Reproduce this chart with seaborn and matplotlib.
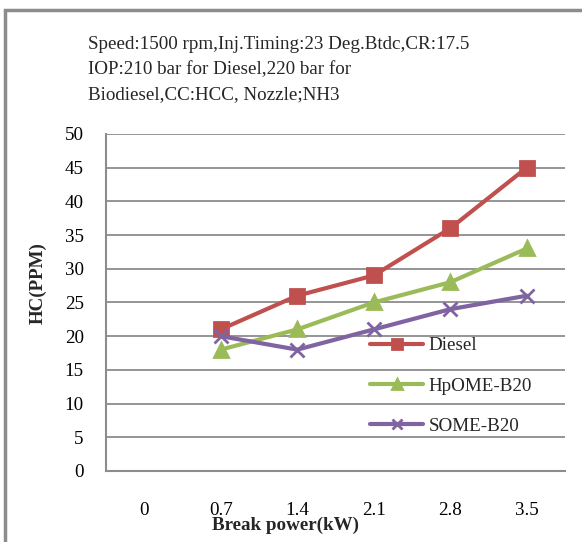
import numpy as np, pandas as pd
import matplotlib; matplotlib.use("Agg"); import matplotlib.pyplot as plt
from matplotlib.patches import Rectangle
from matplotlib.ticker import FixedLocator
import seaborn as sns

# data
power = ["0", "0.7", "1.4", "2.1", "2.8", "3.5"]
data_power = ["0.7", "1.4", "2.1", "2.8", "3.5"]
diesel = [21, 26, 29, 36, 45]
hpome_b20 = [18, 21, 25, 28, 33]
some_b20 = [20, 18, 21, 24, 26]
fuels = ["Diesel", "HpOME-B20", "SOME-B20"]
colors = ["#C0504D", "#9BBB59", "#8064A2"]
markers = ["s", "^", "x"]

df = pd.DataFrame({
    "power": data_power * 3,
    "hc": diesel + hpome_b20 + some_b20,
    "fuel": np.repeat(fuels, len(data_power)),
})

sns.set_style("white")
plt.rcParams["font.family"] = ["Liberation Serif", "DejaVu Serif"]
GRAY = "#8c8c8c"
FS = 13.7

fig = plt.figure(figsize=(5.82, 5.42), dpi=100)
ax = fig.add_axes([0.182, 0.131, 0.789, 0.622])

sns.pointplot(data=df, x="power", y="hc", hue="fuel", order=power,
              hue_order=fuels, palette=colors, markers=markers,
              linestyles="-", errorbar=None, ax=ax,
              linewidth=3, markersize=10, markeredgewidth=2)

ax.set_xlim(-0.5, 5.5)
ax.set_ylim(0, 50)
ax.set_yticks(range(0, 51, 5))
ax.yaxis.grid(True, color=GRAY, linewidth=1.3)
ax.xaxis.grid(False)
ax.set_axisbelow(True)
for s in ["top", "right"]:
    ax.spines[s].set_visible(False)
for s in ["left", "bottom"]:
    ax.spines[s].set_color(GRAY)
    ax.spines[s].set_linewidth(1.5)

ax.xaxis.set_minor_locator(FixedLocator(np.arange(-0.5, 6, 1)))
ax.tick_params(axis="x", which="major", length=0, pad=22, labelsize=FS, colors="black")
ax.tick_params(axis="x", which="minor", length=5, width=1.5, color=GRAY, direction="out")
ax.tick_params(axis="y", length=5, width=1.5, color=GRAY, pad=11, labelsize=FS, labelcolor="black")

ax.set_xlabel("Break power(kW)", fontsize=FS, fontweight="bold")
ax.set_ylabel("HC(PPM)", fontsize=FS, fontweight="bold")
ax.xaxis.set_label_coords(0.39, -0.137)
ax.yaxis.set_label_coords(-0.128, 0.558)

handles, labels = ax.get_legend_handles_labels()
ax.legend(handles, labels, loc="upper left", bbox_to_anchor=(0.575, 0.397),
          frameon=False, fontsize=FS, handlelength=2.8, labelspacing=1.2,
          borderpad=0, borderaxespad=0, handletextpad=0.3, markerscale=0.65)

fig.text(0.151, 0.933,
         "Speed:1500 rpm,Inj.Timing:23 Deg.Btdc,CR:17.5\n"
         "IOP:210 bar for Diesel,220 bar for\n"
         "Biodiesel,CC:HCC, Nozzle;NH3",
         ha="left", va="top", fontsize=FS, linespacing=1.62)

# outer chart frame (left and top edges visible)
fig.patches.append(Rectangle((5 / 582, -0.1), 1.2, 1.0 - 10 / 542 + 0.1,
                             transform=fig.transFigure, fill=False,
                             edgecolor=GRAY, linewidth=2.5))

fig.savefig("out.png", dpi=100)
